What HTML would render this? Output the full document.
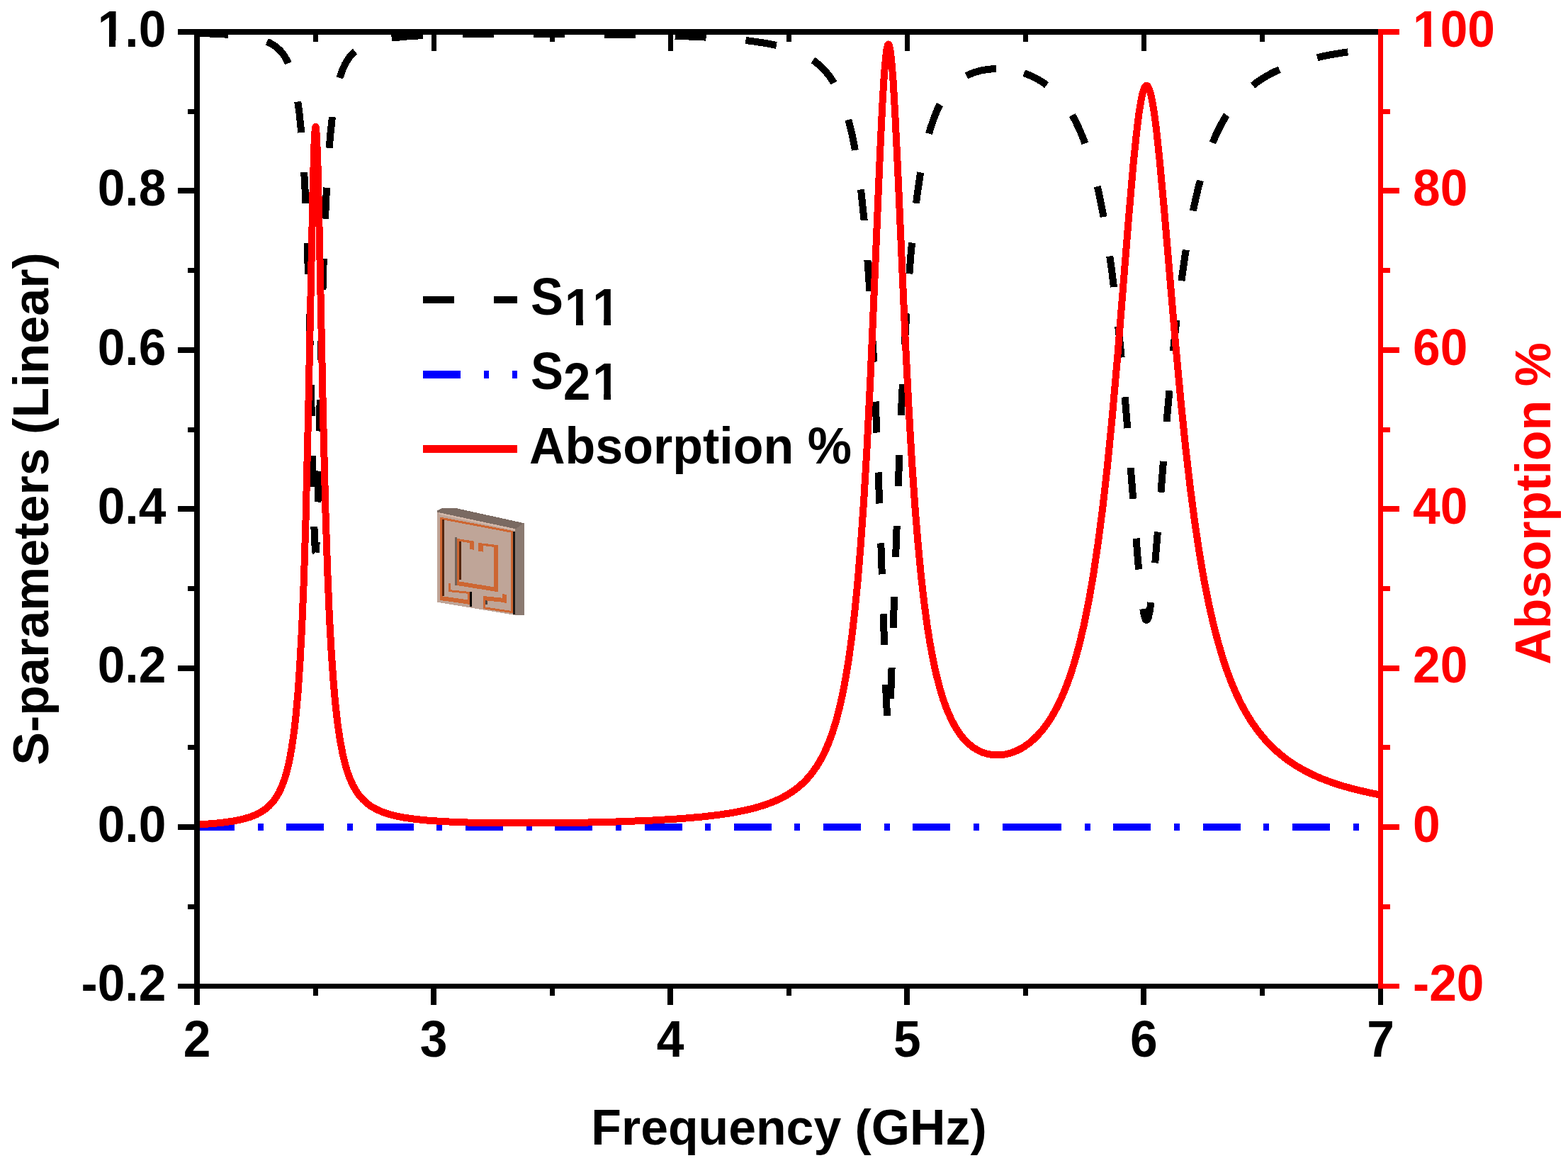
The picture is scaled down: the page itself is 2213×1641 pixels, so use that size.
<!DOCTYPE html>
<html><head><meta charset="utf-8"><title>S-parameters and Absorption</title><style>
html,body{margin:0;padding:0;background:#fff;width:2213px;height:1641px;overflow:hidden}
svg{display:block}
text{font-family:"Liberation Sans",Arial,sans-serif;font-weight:bold;font-kerning:none;font-feature-settings:"kern" 0}
</style></head><body>
<svg width="2213" height="1641" viewBox="0 0 2213 1641" shape-rendering="crispEdges">
<rect width="2213" height="1641" fill="#fff"/>
<path d="M278.0 46.8L312.1 48.1L334.6 49.8L350.6 51.8L362.6 54.1L372.1 56.9L379.7 60.0L386.1 63.6L391.6 67.7L396.5 72.5L400.9 78.3L405.0 85.3L408.8 93.7L412.3 104.3L415.8 117.7L419.0 134.7L422.1 156.3L425.1 185.0L428.1 223.1L430.9 274.3L433.7 345.1L436.8 448.2L441.5 666.2L443.6 750.0L444.7 774.3L445.3 779.2L445.5 779.4" fill="none" stroke="#000" stroke-width="10" stroke-linejoin="bevel" stroke-dasharray="44 56" stroke-dashoffset="0.00"/>
<path d="M445.5 779.4L445.9 777.8L446.8 763.7L448.5 708.3L454.1 455.2L457.1 354.3L460.1 282.8L463.0 231.1L466.0 192.6L469.1 163.7L472.3 141.8L475.6 124.5L479.1 110.9L482.8 100.0L486.7 91.2L490.9 83.9L495.4 77.9L500.4 72.7L506.0 68.3L512.5 64.5L520.1 61.1L529.3 58.1L540.9 55.5L556.0 53.2L576.2 51.3L604.8 49.7L647.9 48.5L715.4 47.9L807.8 48.1L892.0 49.1L953.8 50.7L998.7 52.7L1032.2 55.1L1058.3 57.7L1079.0 60.7L1096.0 64.0L1110.1 67.7L1122.1 71.7L1132.5 76.1L1141.6 81.0L1149.7 86.4L1157.0 92.4L1163.8 99.2L1170.1 106.8L1175.9 115.5L1181.5 125.6L1186.9 137.3L1192.0 150.9L1196.9 167.0L1201.7 186.0L1206.3 208.6L1210.8 235.9L1215.2 269.1L1219.5 309.5L1223.9 359.8L1228.2 422.5L1232.7 501.8L1237.3 605.3L1242.7 749.0L1250.3 973.1L1252.2 1013.5L1253.3 1025.3L1253.8 1027.1L1253.9 1027.2" fill="none" stroke="#000" stroke-width="10" stroke-linejoin="bevel" stroke-dasharray="44 56" stroke-dashoffset="28.99"/>
<path d="M1253.9 1027.2L1254.3 1026.4L1255.2 1019.0L1256.8 990.8L1260.4 893.5L1267.5 689.6L1272.4 571.0L1276.9 482.4L1281.4 412.1L1285.7 356.5L1290.1 311.8L1294.5 274.9L1299.0 244.6L1303.6 219.6L1308.3 198.9L1313.1 181.4L1318.2 166.5L1323.3 154.0L1328.7 143.4L1334.3 134.3L1340.1 126.6L1346.3 119.9L1352.8 114.2L1359.9 109.4L1367.4 105.3L1375.5 102.1L1384.3 99.6L1393.7 97.9L1403.8 97.1L1414.2 97.2L1424.8 98.3L1435.3 100.3L1445.2 103.2" fill="none" stroke="#000" stroke-width="10" stroke-linejoin="bevel" stroke-dasharray="44 56" stroke-dashoffset="58.38"/>
<path d="M1445.2 103.2L1455.0 106.9L1464.3 111.6L1473.0 116.9L1481.3 123.2L1489.1 130.3L1496.7 138.4L1503.9 147.6L1510.8 158.2L1517.5 170.1L1524.0 183.8L1530.4 199.5L1536.6 217.5L1539.0 225.4" fill="none" stroke="#000" stroke-width="10" stroke-linejoin="bevel" stroke-dasharray="44 56" stroke-dashoffset="7.60"/>
<path d="M1539.0 225.4L1545.0 247.2L1551.0 273.0L1557.0 302.9L1562.9 338.0L1568.8 379.3L1574.9 429.1L1581.3 489.7L1588.1 565.3L1597.2 678.5L1606.0 791.2L1610.1 834.7L1612.9 857.4L1615.0 868.7L1616.5 873.5L1617.6 875.2L1618.5 875.4L1619.5 874.4L1620.9 870.7L1622.8 861.7L1625.4 843.3L1629.1 807.8L1635.5 731.1L1646.7 592.8L1653.8 515.0L1660.2 453.9L1666.4 403.4L1672.5 360.7L1678.6 324.2L1684.7 293.1L1690.9 266.1L1697.2 242.8L1703.5 222.6L1710.0 204.8L1716.7 189.1L1723.7 175.2L1730.8 162.8L1738.4 151.7L1746.2 141.7L1754.6 132.6L1763.4 124.4L1773.0 116.8L1783.2 109.9L1794.4 103.5L1806.8 97.6L1820.6 92.1L1836.0 87.1L1853.7 82.4L1873.9 78.0L1897.4 74.0L1925.3 70.4L1948.5 68.0" fill="none" stroke="#000" stroke-width="10" stroke-linejoin="bevel" stroke-dasharray="44 56" stroke-dashoffset="61.12"/>
<path d="M278 1167H1468" fill="none" stroke="#00f" stroke-width="10" stroke-dasharray="53 32.65 8 32.65"/>
<path d="M1445 1167H1948.5" fill="none" stroke="#00f" stroke-width="10" stroke-dasharray="53 32.65 8 32.65"/>
<path d="M278.0 1163.6L302.5 1161.9L318.2 1160.2L330.8 1158.3L343.4 1155.6L353.5 1152.6L361.6 1149.4L368.1 1146.0L374.6 1141.6L379.9 1137.1L385.2 1131.4L389.4 1125.6L393.7 1118.4L397.9 1109.2L401.4 1100.0L404.8 1088.6L408.2 1074.3L411.6 1056.0L415.1 1032.2L417.8 1007.6L420.6 976.5L423.3 936.7L426.1 885.1L428.9 818.0L431.6 730.9L435.0 589.6L441.6 267.4L443.4 205.3L444.4 186.1L445.1 179.9L445.5 178.9L446.0 180.7L447.0 193.4L448.5 233.5L450.7 327.4L456.0 584.4L459.4 720.3L462.2 804.6L464.9 870.1L467.7 920.9L470.5 960.5L473.2 991.7L476.6 1021.8L480.1 1045.0L483.5 1063.1L486.9 1077.4L490.3 1089.0L493.8 1098.4L498.0 1107.9L502.3 1115.5L506.5 1121.7L511.8 1127.8L517.1 1132.7L523.6 1137.6L530.1 1141.4L538.2 1145.1L546.3 1148.0L556.4 1150.8L569.0 1153.4L584.7 1155.7L604.3 1157.7L628.8 1159.3L659.4 1160.5L707.1 1161.3L766.6 1161.4L826.2 1160.6L873.9 1159.4L921.6 1157.5L959.8 1155.2L990.3 1152.6L1014.8 1149.7L1034.4 1146.7L1050.1 1143.7L1065.8 1139.9L1078.5 1136.1L1091.1 1131.5L1101.2 1127.0L1111.3 1121.5L1119.4 1116.3L1127.5 1110.1L1134.0 1104.3L1140.5 1097.5L1147.0 1089.5L1153.6 1080.0L1158.8 1071.1L1164.1 1060.8L1169.3 1048.7L1174.6 1034.5L1179.9 1017.7L1185.1 997.6L1189.4 978.5L1193.6 956.1L1197.9 929.8L1202.2 898.9L1206.4 862.2L1210.7 818.7L1214.9 767.0L1219.2 705.6L1223.5 633.5L1228.7 528.4L1235.2 377.3L1241.8 221.1L1245.2 150.0L1247.9 105.1L1250.2 79.3L1251.7 68.4L1253.0 63.6L1253.6 62.5L1254.2 62.6L1255.0 64.1L1256.3 69.5L1258.1 84.0L1260.4 111.6L1263.1 157.5L1267.4 246.1L1277.5 474.9L1282.8 579.2L1287.0 651.7L1291.3 713.9L1295.6 766.6L1299.8 811.2L1304.1 848.8L1308.3 880.7L1312.6 907.8L1316.9 930.8L1321.1 950.5L1326.4 971.0L1331.6 988.1L1336.9 1002.3L1342.2 1014.2L1347.4 1024.3L1352.7 1032.7L1357.9 1039.8L1363.2 1045.7L1368.5 1050.6L1373.7 1054.7L1380.3 1058.7L1386.8 1061.7L1393.3 1063.7L1399.8 1065.0L1406.3 1065.5L1412.8 1065.3L1419.3 1064.3L1425.9 1062.7L1432.4 1060.4L1438.9 1057.4L1445.4 1053.7L1451.9 1049.1L1458.4 1043.6L1464.9 1037.2L1471.5 1029.8L1478.0 1021.1L1484.5 1011.1L1491.0 999.5L1497.5 986.2L1504.0 970.7L1510.6 952.9L1517.1 932.3L1523.6 908.4L1530.1 880.6L1536.6 848.4L1543.1 811.0L1549.6 767.5L1556.2 717.3L1562.7 659.7L1569.2 594.2L1577.3 502.5L1593.0 307.0L1599.5 231.7L1603.8 189.7L1607.2 161.9L1610.0 144.3L1612.2 133.3L1614.0 126.9L1615.9 122.7L1617.1 121.2L1618.1 120.8L1619.1 121.1L1620.4 122.5L1621.9 125.5L1623.7 131.3L1626.0 141.4L1628.8 157.9L1632.2 184.0L1636.4 223.6L1643.0 294.8L1658.7 480.4L1666.8 568.3L1673.3 631.5L1679.8 687.7L1686.3 737.2L1692.8 780.6L1699.3 818.4L1705.8 851.3L1712.4 880.1L1718.9 905.3L1725.4 927.4L1731.9 946.9L1738.4 964.1L1744.9 979.3L1751.5 992.8L1758.0 1004.9L1766.1 1018.1L1774.2 1029.7L1782.3 1040.0L1790.4 1049.0L1798.5 1057.0L1808.6 1065.8L1818.7 1073.5L1828.8 1080.2L1838.9 1086.1L1851.5 1092.6L1864.1 1098.2L1879.8 1104.1L1895.5 1109.2L1911.2 1113.5L1930.9 1118.1L1946.6 1121.3L1948.4 1121.6L1948.5 1121.7" fill="none" stroke="#f00" stroke-width="10" stroke-linejoin="round"/>
<rect x="274" y="41" width="1671" height="8" fill="#000"/>
<rect x="274" y="1388" width="1671" height="7" fill="#000"/>
<rect x="274" y="41" width="8" height="1354" fill="#000"/>
<rect x="251" y="41" width="23" height="8" fill="#000"/>
<rect x="251" y="265" width="23" height="8" fill="#000"/>
<rect x="251" y="490" width="23" height="8" fill="#000"/>
<rect x="251" y="714" width="23" height="8" fill="#000"/>
<rect x="251" y="939" width="23" height="8" fill="#000"/>
<rect x="251" y="1163" width="23" height="8" fill="#000"/>
<rect x="251" y="1388" width="23" height="7" fill="#000"/>
<rect x="265" y="154" width="9" height="7" fill="#000"/>
<rect x="265" y="378" width="9" height="7" fill="#000"/>
<rect x="265" y="603" width="9" height="7" fill="#000"/>
<rect x="265" y="827" width="9" height="7" fill="#000"/>
<rect x="265" y="1051" width="9" height="7" fill="#000"/>
<rect x="265" y="1276" width="9" height="7" fill="#000"/>
<rect x="274" y="1395" width="8" height="23" fill="#000"/>
<rect x="608" y="1395" width="8" height="23" fill="#000"/>
<rect x="609" y="49" width="7" height="23" fill="#000"/>
<rect x="942" y="1395" width="8" height="23" fill="#000"/>
<rect x="943" y="49" width="7" height="23" fill="#000"/>
<rect x="1276" y="1395" width="8" height="23" fill="#000"/>
<rect x="1277" y="49" width="7" height="23" fill="#000"/>
<rect x="1610" y="1395" width="8" height="23" fill="#000"/>
<rect x="1611" y="49" width="7" height="23" fill="#000"/>
<rect x="1945" y="1395" width="7" height="23" fill="#000"/>
<rect x="442" y="1395" width="7" height="10" fill="#000"/>
<rect x="442" y="49" width="7" height="10" fill="#000"/>
<rect x="776" y="1395" width="7" height="10" fill="#000"/>
<rect x="776" y="49" width="7" height="10" fill="#000"/>
<rect x="1110" y="1395" width="7" height="10" fill="#000"/>
<rect x="1110" y="49" width="7" height="10" fill="#000"/>
<rect x="1444" y="1395" width="7" height="10" fill="#000"/>
<rect x="1444" y="49" width="7" height="10" fill="#000"/>
<rect x="1778" y="1395" width="7" height="10" fill="#000"/>
<rect x="1778" y="49" width="7" height="10" fill="#000"/>
<rect x="1945" y="41" width="7" height="1354" fill="#f00"/>
<rect x="1952" y="41" width="23" height="8" fill="#f00"/>
<rect x="1952" y="265" width="23" height="8" fill="#f00"/>
<rect x="1952" y="490" width="23" height="8" fill="#f00"/>
<rect x="1952" y="714" width="23" height="8" fill="#f00"/>
<rect x="1952" y="939" width="23" height="8" fill="#f00"/>
<rect x="1952" y="1163" width="23" height="8" fill="#f00"/>
<rect x="1952" y="1388" width="23" height="7" fill="#f00"/>
<rect x="1952" y="154" width="10" height="7" fill="#f00"/>
<rect x="1952" y="378" width="10" height="7" fill="#f00"/>
<rect x="1952" y="603" width="10" height="7" fill="#f00"/>
<rect x="1952" y="827" width="10" height="7" fill="#f00"/>
<rect x="1952" y="1051" width="10" height="7" fill="#f00"/>
<rect x="1952" y="1276" width="10" height="7" fill="#f00"/>
<g transform="translate(234.3 65.7) scale(1 1.03)"><text text-anchor="end" font-size="69.5">1.0</text><rect x="-93.64" y="-8.14" width="12.96" height="8.94" fill="#fff"/><rect x="-70.86" y="-8.14" width="12.16" height="8.94" fill="#fff"/></g>
<g transform="translate(234.3 290.1) scale(1 1.03)"><text text-anchor="end" font-size="69.5">0.8</text></g>
<g transform="translate(234.3 514.5) scale(1 1.03)"><text text-anchor="end" font-size="69.5">0.6</text></g>
<g transform="translate(234.3 739.0) scale(1 1.03)"><text text-anchor="end" font-size="69.5">0.4</text></g>
<g transform="translate(234.3 963.4) scale(1 1.03)"><text text-anchor="end" font-size="69.5">0.2</text></g>
<g transform="translate(234.3 1187.8) scale(1 1.03)"><text text-anchor="end" font-size="69.5">0.0</text></g>
<g transform="translate(234.3 1412.2) scale(1 1.03)"><text text-anchor="end" font-size="69.5">-0.2</text></g>
<g transform="translate(1994 65.7) scale(1 1.03)"><text font-size="69.5" fill="#f00">100</text><rect x="2.98" y="-8.14" width="12.96" height="8.94" fill="#fff"/><rect x="25.76" y="-8.14" width="12.16" height="8.94" fill="#fff"/></g>
<g transform="translate(1994 290.1) scale(1 1.03)"><text font-size="69.5" fill="#f00">80</text></g>
<g transform="translate(1994 514.5) scale(1 1.03)"><text font-size="69.5" fill="#f00">60</text></g>
<g transform="translate(1994 739.0) scale(1 1.03)"><text font-size="69.5" fill="#f00">40</text></g>
<g transform="translate(1994 963.4) scale(1 1.03)"><text font-size="69.5" fill="#f00">20</text></g>
<g transform="translate(1994 1187.8) scale(1 1.03)"><text font-size="69.5" fill="#f00">0</text></g>
<g transform="translate(1994 1412.2) scale(1 1.03)"><text font-size="69.5" fill="#f00">-20</text></g>
<text transform="translate(278.0 1491) scale(1 1.03)" text-anchor="middle" font-size="69.5">2</text>
<text transform="translate(612.1 1491) scale(1 1.03)" text-anchor="middle" font-size="69.5">3</text>
<text transform="translate(946.2 1491) scale(1 1.03)" text-anchor="middle" font-size="69.5">4</text>
<text transform="translate(1280.3 1491) scale(1 1.03)" text-anchor="middle" font-size="69.5">5</text>
<text transform="translate(1614.4 1491) scale(1 1.03)" text-anchor="middle" font-size="69.5">6</text>
<text transform="translate(1948.5 1491) scale(1 1.03)" text-anchor="middle" font-size="69.5">7</text>
<text transform="translate(1113.5 1615) scale(0.997 1.015)" text-anchor="middle" font-size="70">Frequency (GHz)</text>
<text transform="translate(68 718) rotate(-90) scale(1 1.015)" text-anchor="middle" font-size="70">S-parameters (Linear)</text>
<text transform="translate(2188 710.4) rotate(-90) scale(1 1.015)" text-anchor="middle" font-size="70" fill="#f00">Absorption %</text>
<path d="M597 423H730" stroke="#000" stroke-width="10" stroke-dasharray="44 56"/>
<path d="M597 528.4H730" stroke="#00f" stroke-width="11" stroke-dasharray="53 33 7 33"/>
<path d="M597 633.4H730" stroke="#f00" stroke-width="11"/>
<g transform="translate(749 443.5) scale(0.985 1.05)"><text font-size="70">S<tspan dy="15.2" dx="2 1">11</tspan></text><g transform="translate(0 15.2)"><rect x="51.69" y="-8.20" width="13.05" height="9.00" fill="#fff"/><rect x="74.64" y="-8.20" width="12.25" height="9.00" fill="#fff"/><rect x="91.62" y="-8.20" width="13.05" height="9.00" fill="#fff"/><rect x="114.57" y="-8.20" width="12.25" height="9.00" fill="#fff"/></g></g>
<g transform="translate(749 548.5) scale(0.985 1.05)"><text font-size="70">S<tspan dy="15.2" dx="0 3">21</tspan></text><g transform="translate(0 15.2)"><rect x="91.62" y="-8.20" width="13.05" height="9.00" fill="#fff"/><rect x="114.57" y="-8.20" width="12.25" height="9.00" fill="#fff"/></g></g>
<text transform="translate(747 654) scale(1 1.02)" font-size="70">Absorption %</text>
<g><polygon points="617.3,720.3 624.0,717.0 644.7,717.3 739.6,738.2 727.2,746.5 617.3,723.5" fill="#7a6a62"/><polygon points="727.2,746.5 739.6,738.0 739.6,867.5 727.2,868.0" fill="#8b7a71"/><polygon points="617.3,723.0 727.2,746.5 727.2,868.0 617.3,849.8" fill="#bfa598"/><polygon points="620.0,723.3 727.2,746.2 727.2,748.8 620.0,725.9" fill="#d2b8aa"/><polygon points="620.6,729.4 724.3,749.1 724.3,752.2 620.6,732.5" fill="#cd6632"/><polygon points="620.6,729.6 624.0,730.3 624.0,844.6 620.6,844.0" fill="#cd6632"/><polygon points="624.0,732.8 626.8,733.4 626.8,841.3 624.0,840.8" fill="#55260f"/><polygon points="721.2,748.5 724.3,749.1 724.3,863.0 721.2,862.5" fill="#cd6632"/><polygon points="724.3,749.5 727.2,750.1 727.2,867.5 724.3,867.0" fill="#1c1816"/><polygon points="620.5,840.8 663.0,846.8 663.0,852.8 620.5,846.8" fill="#cd6632"/><polygon points="660.0,836.0 663.0,836.5 663.0,853.3 660.0,852.8" fill="#cd6632"/><polygon points="633.0,832.0 663.0,835.0 663.0,838.0 633.0,835.0" fill="#cd6632"/><polygon points="633.0,823.0 636.0,823.5 636.0,835.2 633.0,834.7" fill="#cd6632"/><polygon points="663.0,835.0 666.0,835.5 666.0,856.4 663.0,855.9" fill="#000"/><polygon points="681.9,856.0 724.1,862.3 724.1,865.3 681.9,859.0" fill="#cd6632"/><polygon points="681.9,841.0 684.9,841.5 684.9,859.3 681.9,858.8" fill="#cd6632"/><polygon points="684.9,847.0 687.9,847.5 687.9,853.3 684.9,852.8" fill="#4a4440"/><polygon points="681.9,841.0 714.8,844.3 714.8,850.3 681.9,847.0" fill="#cd6632"/><polygon points="709.0,838.0 714.8,839.0 714.8,851.0 709.0,850.0" fill="#cd6632"/><polygon points="642.1,757.5 644.9,758.1 644.9,826.3 642.1,825.8" fill="#716259"/><polygon points="645.2,759.9 648.1,760.5 648.1,823.5 645.2,823.0" fill="#cd6632"/><polygon points="648.1,763.5 650.9,764.1 650.9,818.5 648.1,818.0" fill="#55260f"/><polygon points="645.2,759.9 669.1,763.7 669.1,767.1 645.2,763.3" fill="#cd6632"/><polygon points="663.1,763.0 669.1,764.2 669.1,775.9 663.1,774.7" fill="#cd6632"/><polygon points="675.3,765.9 702.8,769.2 702.8,772.5 675.3,769.2" fill="#cd6632"/><polygon points="675.3,765.9 681.5,767.1 681.5,778.7 675.3,777.5" fill="#cd6632"/><polygon points="697.1,768.5 702.8,769.6 702.8,832.0 697.1,831.0" fill="#cd6632"/><polygon points="645.2,820.0 702.8,829.2 702.8,835.2 645.2,826.0" fill="#cd6632"/></g>
</svg>
</body></html>
